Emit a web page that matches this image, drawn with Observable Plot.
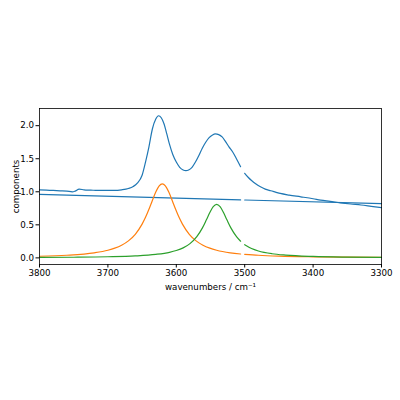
<!DOCTYPE html>
<html>
<head>
<meta charset="utf-8">
<script src="https://cdn.jsdelivr.net/npm/d3@7"></script>
<script src="https://cdn.jsdelivr.net/npm/@observablehq/plot@0.6"></script>
<style>
  html, body { margin: 0; padding: 0; background: #fff; }
  #chart svg { display: block; }
</style>
</head>
<body>
<div id="chart"></div>
<script>
// Measured spectrum (null = masked region)
const specWn = [3800,3790,3780,3770,3760,3752,3748,3742,3735,3725,3715,3700,3690,3680,3670,3663,3657,3650,3645,3640,3635,3630,3626,3622,3618,3614,3610,3605,3600,3595,3590,3586,3582,3577,3572,3567,3562,3557,3552,3547,3543,3538,3533,3528,3523,3518,3513,3509,3506,3503,3500,3495,3490,3484,3477,3470,3462,3455,3448,3435,3418,3400,3389,3375,3360,3345,3330,3315,3300];
const specVal = [1.03,1.025,1.02,1.015,1.01,1.0,1.01,1.04,1.03,1.025,1.02,1.02,1.02,1.03,1.05,1.08,1.13,1.25,1.45,1.68,1.95,2.10,2.15,2.12,2.03,1.88,1.72,1.56,1.45,1.37,1.33,1.32,1.33,1.37,1.45,1.55,1.66,1.75,1.82,1.86,1.875,1.865,1.83,1.76,1.68,1.61,1.52,1.44,1.38,null,1.28,1.22,1.17,1.12,1.075,1.04,1.015,0.995,0.975,0.95,0.924,0.895,0.874,0.855,0.833,0.815,0.80,0.78,0.76];

// Baseline component
const baseWn = [3800,3506,3503,3500,3300];
const baseVal = [0.96,0.877,null,0.876,0.82];

// First band (orange)
const orangeWn = [3800,3760,3720,3700,3690,3680,3670,3660,3650,3645,3640,3635,3630,3625,3620.5,3616,3611,3606,3601,3596,3591,3581,3571,3561,3551,3541,3521,3506,3503,3500,3480,3450,3400,3350,3300];
const orangeVal = [0.025,0.040,0.077,0.116,0.147,0.191,0.257,0.357,0.511,0.614,0.736,0.869,0.996,1.09,1.12,1.09,0.996,0.869,0.736,0.614,0.511,0.357,0.257,0.191,0.147,0.116,0.077,0.059,null,0.054,0.040,0.027,0.0165,0.011,0.008];

// Second band (green)
const greenWn = [3800,3750,3700,3660,3630,3610,3600,3590,3580,3570,3562,3556,3551,3546,3541,3536,3531,3526,3520,3512,3506,3503,3500,3490,3480,3460,3440,3400,3350,3300];
const greenVal = [0.007,0.010,0.017,0.030,0.053,0.084,0.111,0.151,0.216,0.321,0.45,0.576,0.686,0.775,0.81,0.775,0.686,0.576,0.45,0.321,0.252,null,0.20,0.142,0.105,0.063,0.042,0.022,0.012,0.008];

const xTicks = [3800,3700,3600,3500,3400,3300];
const yTicks = [0.0,0.5,1.0,1.5,2.0];

const rows = (wn, v) => wn.map((w, i) => ({wn: w, v: v[i] == null ? NaN : v[i]}));

const spec = rows(specWn, specVal);
const base = rows(baseWn, baseVal);
const orange = rows(orangeWn, orangeVal);
const green = rows(greenWn, greenVal);

const chart = Plot.plot({
  width: 400,
  height: 400,
  marginLeft: 39,
  marginRight: 19,
  marginTop: 108,
  marginBottom: 136,
  style: {fontFamily: "DejaVu Sans", fontSize: "8.7px", color: "black", background: "white"},
  x: {domain: [3800, 3300]},
  y: {domain: [-0.1, 2.26]},
  marks: [
    Plot.line(spec, {x: "wn", y: "v", stroke: "#1f77b4", strokeWidth: 1.2, curve: "monotone-x"}),
    Plot.line(base, {x: "wn", y: "v", stroke: "#1f77b4", strokeWidth: 1.2}),
    Plot.line(orange, {x: "wn", y: "v", stroke: "#ff7f0e", strokeWidth: 1.2, curve: "monotone-x"}),
    Plot.line(green, {x: "wn", y: "v", stroke: "#2ca02c", strokeWidth: 1.2, curve: "monotone-x"}),
    Plot.frame({stroke: "black", strokeWidth: 0.8}),
    Plot.axisX({ticks: xTicks, tickSize: 3.5, tickPadding: 2, tickFormat: d => String(d),
      label: "wavenumbers / cm⁻¹", labelAnchor: "center", labelArrow: "none", labelOffset: 25}),
    Plot.axisY({ticks: yTicks, tickSize: 3.5, tickPadding: 2, tickFormat: d => d.toFixed(1),
      label: "components", labelAnchor: "center", labelArrow: "none", labelOffset: 27})
  ]
});
document.getElementById("chart").appendChild(chart);
</script>
</body>
</html>
